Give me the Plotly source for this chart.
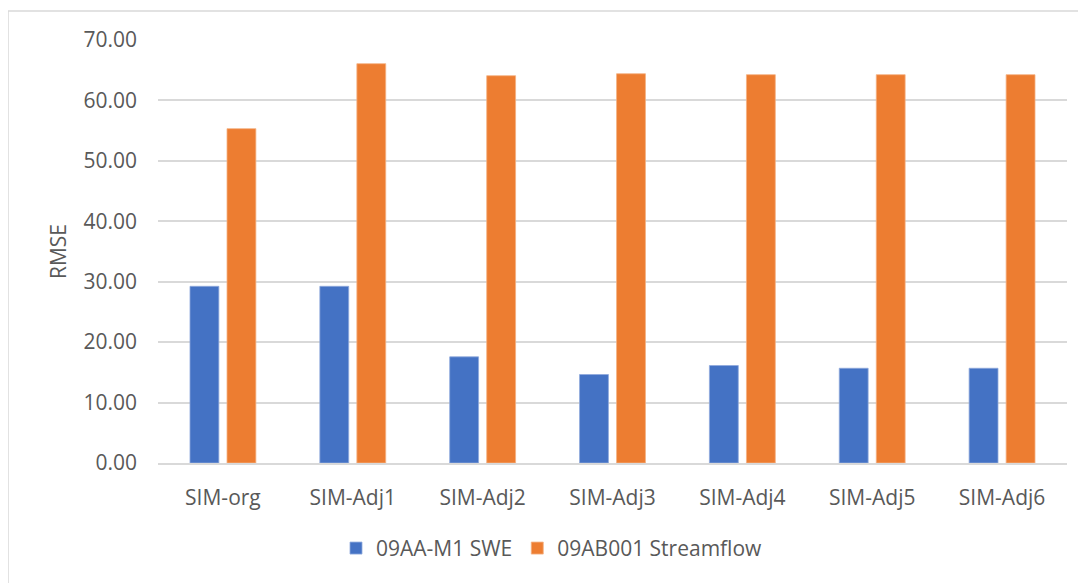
import plotly.graph_objects as go

categories = ["SIM-org", "SIM-Adj1", "SIM-Adj2", "SIM-Adj3", "SIM-Adj4", "SIM-Adj5", "SIM-Adj6"]
swe_rmse = [29.24, 29.24, 17.57, 14.64, 16.13, 15.68, 15.68]
streamflow_rmse = [55.33, 66.08, 64.09, 64.42, 64.26, 64.26, 64.26]
series_names = ["09AA-M1 SWE", "09AB001 Streamflow"]
y_ticks = [0, 10, 20, 30, 40, 50, 60, 70]

FONT = "Open Sans"
TXT = "#595959"
GRID = "#d9d9d9"
FS = 21

fig = go.Figure()
fig.add_trace(go.Bar(x=categories, y=swe_rmse, name=series_names[0],
                     marker=dict(color="#4472C4", line=dict(color="#8faadc", width=0.8))))
fig.add_trace(go.Bar(x=categories, y=streamflow_rmse, name=series_names[1],
                     marker=dict(color="#ED7D31", line=dict(color="#f4b183", width=0.8))))

# page has an 8px body margin, so the figure is sized/positioned relative to (8, 8)
OFF = 8
W, H = 1086 - OFF, 583 - OFF
L, R, T, B = 158 - OFF, 19, 40 - OFF, 583 - 463.5
pw = W - L - R
ph = H - T - B

fig.update_layout(
    width=W, height=H,
    margin=dict(l=L, r=R, t=T, b=B, autoexpand=False),
    paper_bgcolor="white", plot_bgcolor="white",
    barmode="group", bargap=0.43, bargroupgap=0.22,
    font=dict(family=FONT, color=TXT, size=FS),
    showlegend=True,
    legend=dict(orientation="h", x=(336 - 158) / pw, xanchor="left",
                y=-(549 - 463.5) / ph, yanchor="middle",
                font=dict(family=FONT, size=FS, color=TXT),
                itemwidth=30, traceorder="normal"),
    xaxis=dict(showgrid=False, showline=True, linecolor=GRID, linewidth=1.5,
               ticks="", ticklabelstandoff=15, tickfont=dict(size=FS, color=TXT)),
    yaxis=dict(range=[0, 70], tickvals=y_ticks, tickformat=".2f", showgrid=True,
               gridcolor=GRID, gridwidth=1.5, zeroline=False, showline=False,
               ticks="", ticklabelstandoff=20, tickfont=dict(size=FS, color=TXT),
               title=dict(text="RMSE", standoff=11, font=dict(size=FS, color=TXT))),
    shapes=[dict(type="rect", xref="paper", yref="paper",
                 x0=(8 - 158) / pw, x1=(1100 - 158) / pw,
                 y0=-(600 - 463.5) / ph, y1=1 + (40 - 11) / ph,
                 line=dict(color=GRID, width=1.5), fillcolor="rgba(0,0,0,0)", layer="below")],
)

fig.write_html("out.html")
